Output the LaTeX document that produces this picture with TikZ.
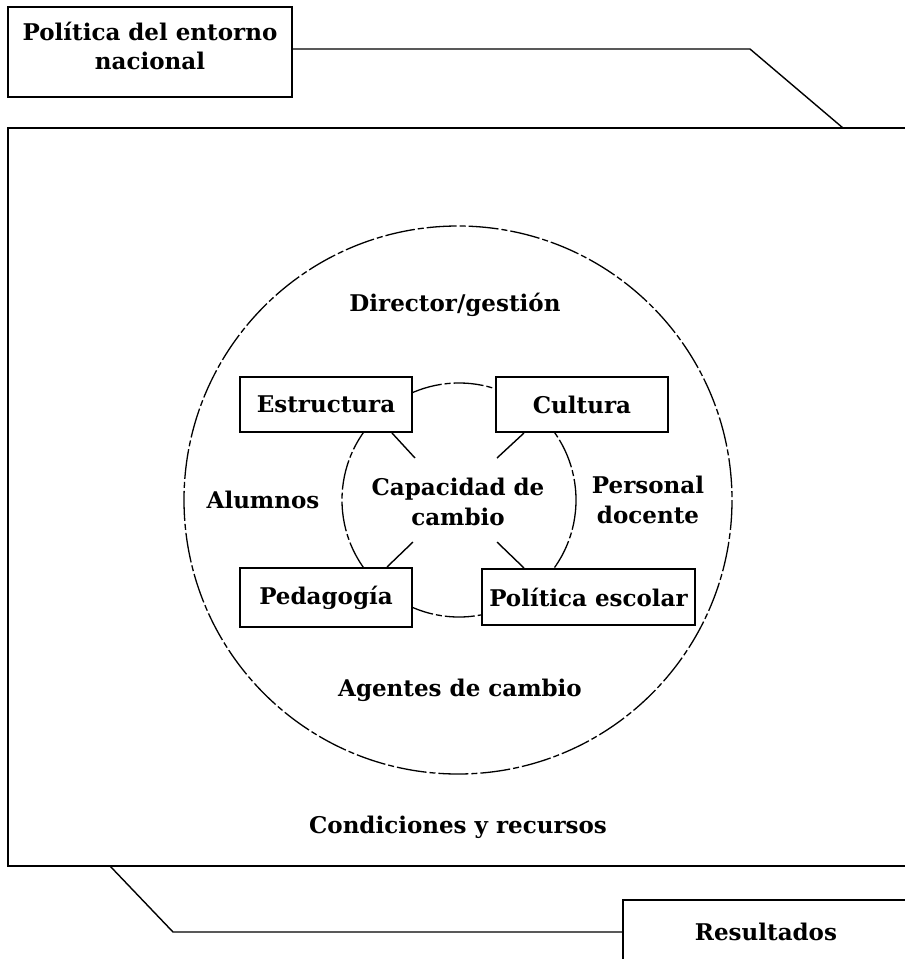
\documentclass[tikz,border=0pt]{standalone}
\usepackage{fontspec}
\setmainfont{DejaVu Serif}
\usetikzlibrary{calc, positioning}

\tikzset{
  lbl/.style={font=\bfseries\fontsize{23}{30.5}\selectfont, align=center, inner sep=0pt},
  factor/.style={lbl, draw, line width=2pt, fill=white, minimum height=55pt},
  link/.style={line width=1.4pt},
  ring/.style={line width=1.3pt, dash pattern=on 30pt off 3pt on 6pt off 3pt}
}

\begin{document}
\begin{tikzpicture}[x=1pt, y=-1pt]
\def\rout{274}
\def\rin{117}
\useasboundingbox (0,0) rectangle (905,959);
\coordinate (O) at (458,500);
% outer frame and connector boxes
\draw[line width=2pt] (8,128) rectangle (915,866);
\node[lbl, draw, line width=2pt, minimum width=284pt, minimum height=90pt] (env) at (150,52) {};
\node[lbl] at (150,31) {Política del entorno};
\node[lbl] at (150,61) {nacional};
\draw[line width=2pt] (623,900) rectangle (915,975);
\node[lbl] (res) at (766,932) {Resultados};
\coordinate (topK) at (750,49);
\coordinate (topE) at (843,128);
\coordinate (botE) at (110,866);
\coordinate (botK) at (173,932);
\draw[link] (env.east |- topK) -- (topK) -- (topE);
\draw[link] (botE) -- (botK) -- (623,932);
% circles
\draw[ring] (O) circle (\rout);
\draw[ring] ($(O)+(1,0)$) circle (\rin);
% factors
\node[factor, minimum width=172pt] (estr) at (326,404.5) {Estructura};
\node[factor, minimum width=172pt] (cult) at (582,404.5) {Cultura};
\node[factor, minimum width=172pt, minimum height=59pt] (peda) at (326,597.5) {Pedagogía};
\node[factor, minimum width=213pt, minimum height=56pt] (poli) at (588.5,597) {Política escolar};
% labels
\node[lbl] (dir) at (455,305) {Director/gestión};
\node[lbl] (cap) at (458,502) {Capacidad de\\cambio};
\node[lbl] (alu) at (263,500) {Alumnos};
\node[lbl] (per) at (648,500) {Personal\\docente};
\node[lbl] (age) at (460,690) {Agentes de cambio};
\node[lbl] (con) at (458,827) {Condiciones y recursos};
% spokes
\coordinate (sE) at (415,458);
\coordinate (sC) at (497,458);
\coordinate (sP) at (413,542);
\coordinate (sS) at (497,542);
\draw[link] (estr.south -| 392,0) -- (sE);
\draw[link] (cult.south -| 524,0) -- (sC);
\draw[link] (peda.north -| 387,0) -- (sP);
\draw[link] (poli.north -| 524,0) -- (sS);
\end{tikzpicture}
\end{document}
